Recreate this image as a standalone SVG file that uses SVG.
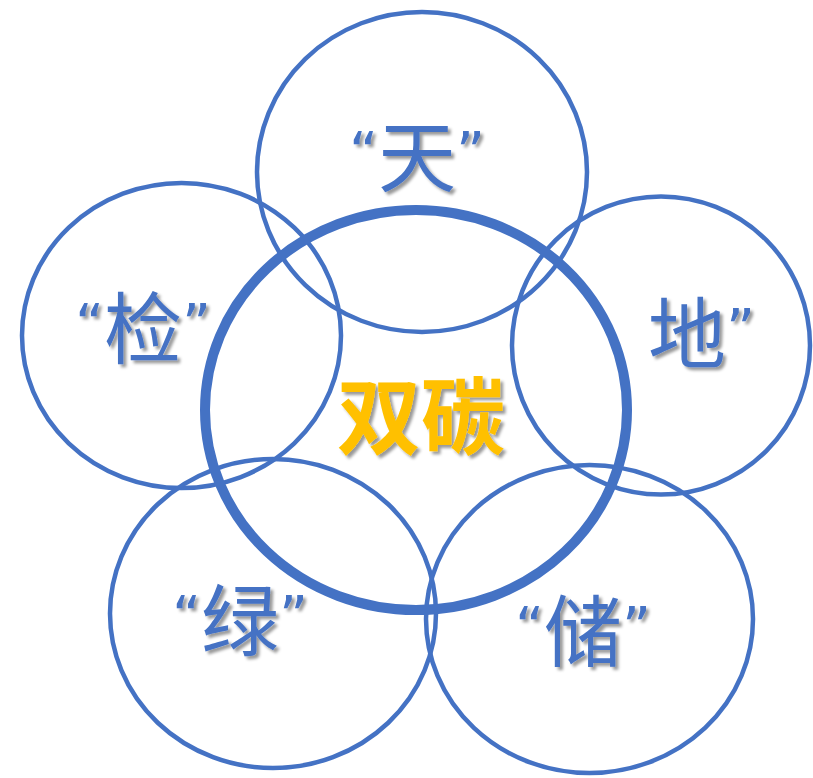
<svg xmlns="http://www.w3.org/2000/svg" width="813" height="778" viewBox="0 0 813 778">
<defs>
<filter id="sh" x="-20%" y="-20%" width="140%" height="140%">
<feDropShadow dx="3" dy="3" stdDeviation="1.6" flood-color="#000" flood-opacity="0.4"/>
</filter>
<style>
.ring{fill:none;stroke:#4472C4;stroke-width:4.5}
.core{fill:none;stroke:#4472C4;stroke-width:10}
.lbl{font-family:"Noto Sans CJK SC","Noto Sans",sans-serif;font-size:78px;fill:#4472C4;filter:url(#sh)}
.q{font-family:"DejaVu Sans","Noto Sans CJK SC",sans-serif;font-size:56px}
.main{font-family:"Noto Sans CJK SC",sans-serif;font-weight:bold;font-size:84px;fill:#FFC000;filter:url(#sh)}
</style>
</defs>
<rect width="813" height="778" fill="#fff"/>
<g id="connectors"></g>
<g id="node-tian"><ellipse class="ring" cx="422" cy="172" rx="165" ry="160"/><text class="lbl" x="349" y="186"><tspan class="q" dy="-15">“</tspan><tspan dy="15">天</tspan><tspan class="q" dy="-15">”</tspan></text></g>
<g id="node-jian"><ellipse class="ring" cx="181.5" cy="335.5" rx="159.5" ry="152.5"/><text class="lbl" x="75" y="358"><tspan class="q" dy="-15">“</tspan><tspan dy="15">检</tspan><tspan class="q" dy="-15">”</tspan></text></g>
<g id="node-di"><ellipse class="ring" cx="661" cy="345.5" rx="149" ry="149"/><text class="lbl" x="648" y="363">地<tspan class="q" dy="-15">”</tspan></text></g>
<g id="node-lv"><ellipse class="ring" cx="273" cy="613.5" rx="163" ry="154.5"/><text class="lbl" x="172" y="650"><tspan class="q" dy="-15">“</tspan><tspan dy="15">绿</tspan><tspan class="q" dy="-15">”</tspan></text></g>
<g id="node-chu"><ellipse class="ring" cx="589.5" cy="619" rx="163.5" ry="154"/><text class="lbl" x="515" y="661"><tspan class="q" dy="-15">“</tspan><tspan dy="15">储</tspan><tspan class="q" dy="-15">”</tspan></text></g>
<g id="node-core"><ellipse class="core" cx="416" cy="410" rx="211" ry="200"/><text class="main" x="337" y="448">双碳</text></g>
</svg>
